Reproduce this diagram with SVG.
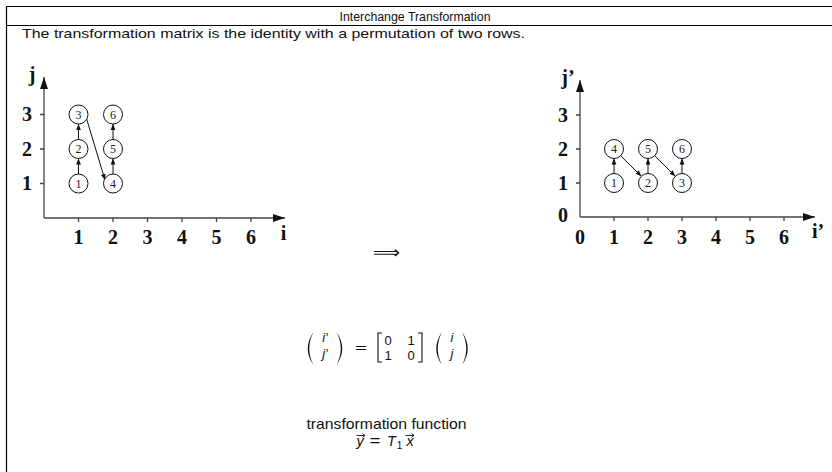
<svg xmlns="http://www.w3.org/2000/svg" width="832" height="472" viewBox="0 0 832 472">
<style>
.frame{stroke:#000;stroke-width:1.2;fill:none}
.sans{font-family:"Liberation Sans",Arial,sans-serif;fill:#111}
.ax{stroke:#444;stroke-width:1.3;fill:none}
.tk{font-family:"Liberation Serif","Times New Roman",serif;font-weight:bold;font-size:20px;fill:#111;text-anchor:middle}
.nd circle{fill:#fff;stroke:#111;stroke-width:1}
.nd text{font-family:"Liberation Serif","Times New Roman",serif;font-size:12px;fill:#222;text-anchor:middle}
.ed{stroke:#111;stroke-width:1;fill:none;marker-end:url(#ah)}
.m{font-family:"Liberation Sans",Arial,sans-serif;font-size:13px;fill:#111;text-anchor:middle}
.mi{font-style:italic}
.dl{stroke:#111;stroke-width:1.1;fill:none}
.pf{fill:#111;stroke:none}
</style>
<defs>
<marker id="ah" viewBox="0 0 10 10" refX="10" refY="5" markerWidth="6" markerHeight="6" orient="auto" markerUnits="userSpaceOnUse">
<path d="M0,1 L10,5 L0,9 Z" fill="#111"/>
</marker>
<marker id="axh" viewBox="0 0 12 8" refX="12" refY="4" markerWidth="12" markerHeight="8" orient="auto" markerUnits="userSpaceOnUse">
<path d="M0,0 L12,4 L0,8 Z" fill="#111"/>
</marker>
</defs>

<g id="frame">
<path class="frame" d="M832,6.5 H6.5 V472"/>
<line class="frame" x1="6.5" y1="25.5" x2="832" y2="25.5"/>
<text class="sans" x="415" y="20.5" font-size="13" text-anchor="middle" textLength="151" lengthAdjust="spacingAndGlyphs">Interchange Transformation</text>
<text class="sans" x="22" y="38" font-size="13.5" textLength="503" lengthAdjust="spacingAndGlyphs">The transformation matrix is the identity with a permutation of two rows.</text>
</g>

<g id="left-plot">
<line class="ax" x1="44" y1="218" x2="44" y2="77" marker-end="url(#axh)"/>
<line class="ax" x1="44" y1="218" x2="285" y2="218" marker-end="url(#axh)"/>
<path class="ax" d="M40,183.5H44M40,149H44M40,114.5H44M78.5,218V222M113,218V222M147.5,218V222M182,218V222M216.5,218V222M251,218V222"/>
<text class="tk" x="27" y="121">3</text>
<text class="tk" x="27" y="156">2</text>
<text class="tk" x="27" y="190">1</text>
<text class="tk" x="78.5" y="243.5">1</text>
<text class="tk" x="113" y="243.5">2</text>
<text class="tk" x="147.5" y="243.5">3</text>
<text class="tk" x="182" y="243.5">4</text>
<text class="tk" x="216.5" y="243.5">5</text>
<text class="tk" x="251" y="243.5">6</text>
<text class="tk" x="32" y="81">j</text>
<text class="tk" x="283.5" y="240">i</text>
</g>

<g id="right-plot">
<line class="ax" x1="580" y1="217" x2="580" y2="80" marker-end="url(#axh)"/>
<line class="ax" x1="580" y1="217" x2="815" y2="217" marker-end="url(#axh)"/>
<path class="ax" d="M576,183H580M576,149H580M576,115H580M614,217V221M648,217V221M682,217V221M716,217V221M750,217V221M784,217V221"/>
<text class="tk" x="563" y="122">3</text>
<text class="tk" x="563" y="156">2</text>
<text class="tk" x="563" y="190">1</text>
<text class="tk" x="563" y="222">0</text>
<text class="tk" x="580" y="243.5">0</text>
<text class="tk" x="614" y="243.5">1</text>
<text class="tk" x="648" y="243.5">2</text>
<text class="tk" x="682" y="243.5">3</text>
<text class="tk" x="716" y="243.5">4</text>
<text class="tk" x="750" y="243.5">5</text>
<text class="tk" x="784" y="243.5">6</text>
<text class="tk" x="568" y="84">j’</text>
<text class="tk" x="818" y="238">i’</text>
</g>

<g id="connectors">
<line class="ed" x1="78.5" y1="174" x2="78.5" y2="158.5"/>
<line class="ed" x1="78.5" y1="139.5" x2="78.5" y2="124"/>
<line class="ed" x1="86.5" y1="118.5" x2="105" y2="180"/>
<line class="ed" x1="113" y1="174" x2="113" y2="158.5"/>
<line class="ed" x1="113" y1="139.5" x2="113" y2="124"/>
<line class="ed" x1="614" y1="173.5" x2="614" y2="158.5"/>
<line class="ed" x1="620.7" y1="155.8" x2="641.3" y2="176.2"/>
<line class="ed" x1="648" y1="173.5" x2="648" y2="158.5"/>
<line class="ed" x1="654.7" y1="155.8" x2="675.3" y2="176.2"/>
<line class="ed" x1="682" y1="173.5" x2="682" y2="158.5"/>
</g>

<g id="node-L1" class="nd"><circle cx="78.5" cy="183.5" r="9.5"/><text x="78.5" y="187.5">1</text></g>
<g id="node-L2" class="nd"><circle cx="78.5" cy="149" r="9.5"/><text x="78.5" y="153">2</text></g>
<g id="node-L3" class="nd"><circle cx="78.5" cy="114.5" r="9.5"/><text x="78.5" y="118.5">3</text></g>
<g id="node-L4" class="nd"><circle cx="113" cy="183.5" r="9.5"/><text x="113" y="187.5">4</text></g>
<g id="node-L5" class="nd"><circle cx="113" cy="149" r="9.5"/><text x="113" y="153">5</text></g>
<g id="node-L6" class="nd"><circle cx="113" cy="114.5" r="9.5"/><text x="113" y="118.5">6</text></g>

<g id="node-R1" class="nd"><circle cx="614" cy="183" r="9.5"/><text x="614" y="187">1</text></g>
<g id="node-R4" class="nd"><circle cx="614" cy="149" r="9.5"/><text x="614" y="153">4</text></g>
<g id="node-R2" class="nd"><circle cx="648" cy="183" r="9.5"/><text x="648" y="187">2</text></g>
<g id="node-R5" class="nd"><circle cx="648" cy="149" r="9.5"/><text x="648" y="153">5</text></g>
<g id="node-R3" class="nd"><circle cx="682" cy="183" r="9.5"/><text x="682" y="187">3</text></g>
<g id="node-R6" class="nd"><circle cx="682" cy="149" r="9.5"/><text x="682" y="153">6</text></g>

<g id="implies">
<text x="386.5" y="258" font-family="DejaVu Sans,sans-serif" font-size="17" text-anchor="middle" textLength="27" lengthAdjust="spacingAndGlyphs" fill="#111">⟹</text>
</g>

<g id="equation">
<path class="pf" d="M313.5,332 Q302,348.5 313.5,365 Q305,348.5 313.5,332Z"/>
<path class="pf" d="M336.5,332 Q348,348.5 336.5,365 Q345,348.5 336.5,332Z"/>
<text class="m mi" x="325" y="342">i′</text>
<text class="m mi" x="325" y="358">j′</text>
<text class="m" x="361" y="352" font-size="15" textLength="12" lengthAdjust="spacingAndGlyphs">=</text>
<path class="dl" d="M382,333H378V362H382"/>
<path class="dl" d="M418,333H422V362H418"/>
<text class="m" x="388" y="344.5">0</text>
<text class="m" x="411" y="344.5">1</text>
<text class="m" x="388" y="360">1</text>
<text class="m" x="411" y="360">0</text>
<path class="pf" d="M442,332 Q430.5,348.5 442,365 Q433.5,348.5 442,332Z"/>
<path class="pf" d="M462,332 Q473.5,348.5 462,365 Q470.5,348.5 462,332Z"/>
<text class="m mi" x="452" y="342">i</text>
<text class="m mi" x="452" y="358">j</text>
</g>

<g id="function">
<text class="sans" x="386.5" y="429" font-size="14.5" text-anchor="middle" textLength="160" lengthAdjust="spacingAndGlyphs">transformation function</text>
<text class="sans" x="360" y="446" font-size="14.5" font-style="italic" text-anchor="middle">y</text>
<text class="sans" x="375" y="446" font-size="15" text-anchor="middle" textLength="11" lengthAdjust="spacingAndGlyphs">=</text>
<text class="sans" x="391.5" y="446" font-size="14.5" font-style="italic" text-anchor="middle">T</text>
<text class="sans" x="399.5" y="449" font-size="10" text-anchor="middle">1</text>
<text class="sans" x="410" y="446" font-size="14.5" font-style="italic" text-anchor="middle">x</text>
<path d="M356.5,435.5H365M362.5,433.5L365,435.5L362.5,437.5M405.5,435.5H414M411.5,433.5L414,435.5L411.5,437.5" stroke="#111" stroke-width="0.9" fill="none"/>
</g>
</svg>
